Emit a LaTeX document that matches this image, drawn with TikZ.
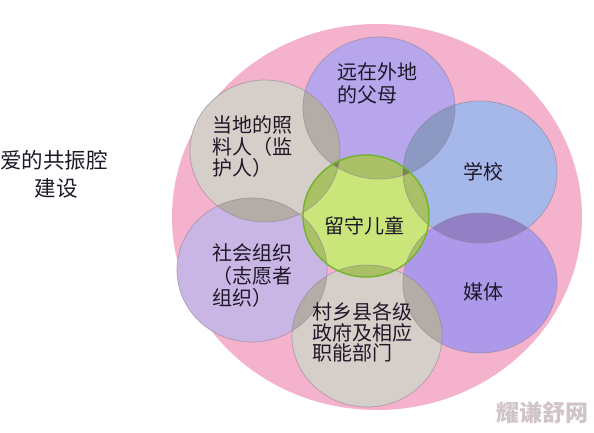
\documentclass[tikz,border=0pt]{standalone}
\usepackage{fontspec}
\newfontfamily\cjk{Noto Sans CJK SC}
\definecolor{pinkc}{RGB}{245,178,205}
\definecolor{parc}{RGB}{184,166,236}
\definecolor{carec}{RGB}{214,206,200}
\definecolor{schc}{RGB}{166,183,233}
\definecolor{medc}{RGB}{173,153,233}
\definecolor{orgc}{RGB}{202,182,229}
\definecolor{govc}{RGB}{214,206,200}
\definecolor{kidc}{RGB}{202,229,122}
\definecolor{edgec}{RGB}{140,128,150}
\definecolor{kidedge}{RGB}{112,180,44}
\definecolor{textc}{RGB}{30,24,40}
\definecolor{wmc}{RGB}{208,196,202}
\newcommand\darkpair[2]{\begin{scope}\clip #1; \fill[black,fill opacity=0.16] #2;\end{scope}}
\begin{document}
\begin{tikzpicture}[x=1pt,y=-1pt,
  txt/.style={font=\cjk\fontsize{20}{22}\selectfont, text=textc, inner sep=0pt},
  lbl/.style={font=\cjk\fontsize{21.5}{24}\selectfont, text=textc, inner sep=0pt},
  ring/.style={draw=edgec, draw opacity=0.6, line width=0.7pt}]
\useasboundingbox (0,0) rectangle (594,433);
\fill[white] (0,0) rectangle (594,433);
\def\cPink{(377,217) ellipse [x radius=205pt, y radius=193pt]}
\def\cP{(379,108) ellipse [x radius=76pt, y radius=71pt]}
\def\cC{(265,151) ellipse [x radius=75pt, y radius=71pt]}
\def\cS{(480,172) ellipse [x radius=77pt, y radius=71pt]}
\def\cM{(480,283) ellipse [x radius=77pt, y radius=70pt]}
\def\cO{(252,270) ellipse [x radius=75pt, y radius=72pt]}
\def\cG{(367,336) ellipse [x radius=75pt, y radius=71pt]}
\def\cK{(366,216) ellipse [x radius=63pt, y radius=61pt]}
% background disc
\fill[pinkc] \cPink;
% circle fills
\fill[parc] \cP;
\fill[schc] \cS;
\fill[medc] \cM;
\fill[orgc] \cO;
\fill[carec] \cC;
\fill[govc] \cG;
\fill[kidc] \cK;
% overlaps
\darkpair{\cP}{\cC}
\darkpair{\cP}{\cS}
\darkpair{\cS}{\cM}
\darkpair{\cM}{\cG}
\darkpair{\cG}{\cO}
\darkpair{\cO}{\cC}
\darkpair{\cK}{\cP}
\darkpair{\cK}{\cS}
\darkpair{\cK}{\cM}
\darkpair{\cK}{\cG}
\darkpair{\cK}{\cO}
\darkpair{\cK}{\cC}
% outlines
\draw[ring] \cP;
\draw[ring] \cS;
\draw[ring] \cM;
\draw[ring] \cO;
\draw[ring] \cC;
\draw[ring] \cG;
\draw[draw=kidedge, line width=1.4pt] \cK;
% texts
\node[lbl] (l1) at (54,160) {爱的共振腔};
\node[lbl] (l2) at (56,188) {建设};
\node[txt, anchor=west] (p1) at (337,72) {远在外地};
\node[txt, anchor=west] (p2) at (337,95) {的父母};
\node[txt, anchor=west] (c1) at (212,125) {当地的照};
\node[txt, anchor=west] (c2) at (212,147) {料人（监};
\node[txt, anchor=west] (c3) at (212,168) {护人）};
\node[txt] (s1) at (483,172) {学校};
\node[txt] (k1) at (364,226) {留守儿童};
\node[txt, anchor=west] (o1) at (212,253) {社会组织};
\node[txt, anchor=west] (o2) at (212,276) {（志愿者};
\node[txt, anchor=west] (o3) at (212,298) {组织）};
\node[txt] (m1) at (483,292) {媒体};
\node[txt, anchor=west] (g1) at (312,312) {村乡县各级};
\node[txt, anchor=west] (g2) at (312,333) {政府及相应};
\node[txt, anchor=west] (g3) at (312,353) {职能部门};
\node[font=\cjk\bfseries\fontsize{23}{25}\selectfont, text=wmc, inner sep=0pt] (wm) at (542,413) {耀谦舒网};
\end{tikzpicture}
\end{document}
